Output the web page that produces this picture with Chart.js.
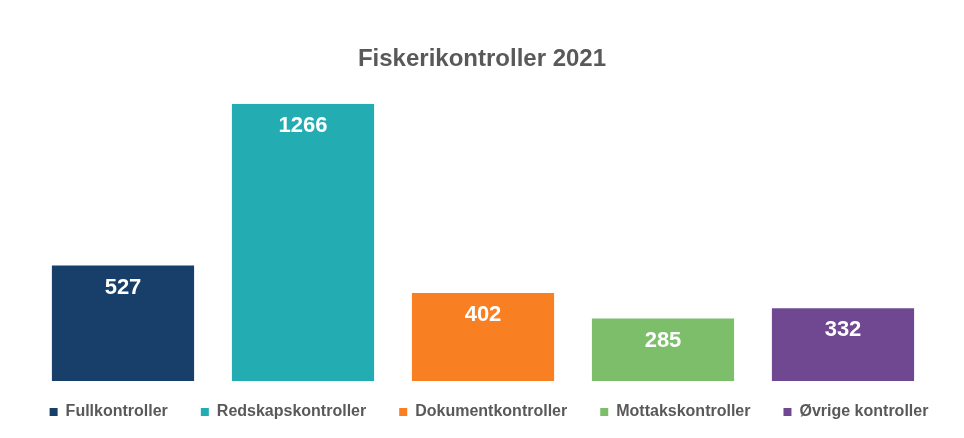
<!DOCTYPE html>
<html>
<head>
<meta charset="utf-8">
<script src="https://cdn.jsdelivr.net/npm/chart.js@4/dist/chart.umd.min.js"></script>
<style>
  html, body { margin: 0; padding: 0; background: #ffffff; }
  #wrap { width: 964px; height: 438px; }
</style>
</head>
<body>
<div id="wrap"><canvas id="c"></canvas></div>
<script>
const categories = ["Fullkontroller", "Redskapskontroller", "Dokumentkontroller", "Mottakskontroller", "Øvrige kontroller"];
const values = [527, 1266, 402, 285, 332];
const colors = ["#173F6A", "#23ADB3", "#F87F22", "#7DBE6A", "#6F4891"];
const titleText = "Fiskerikontroller 2021";

const valueLabels = {
  id: 'valueLabels',
  afterDatasetsDraw(chart) {
    const ctx = chart.ctx;
    const meta = chart.getDatasetMeta(0);
    ctx.save();
    ctx.fillStyle = '#ffffff';
    ctx.font = 'bold 22px "Liberation Sans", Arial, sans-serif';
    ctx.textAlign = 'center';
    ctx.textBaseline = 'middle';
    meta.data.forEach((bar, i) => {
      ctx.fillText(String(values[i]), bar.x, bar.y + 22);
    });
    ctx.restore();
  }
};

const legendShift = {
  id: 'legendShift',
  afterLayout(chart) {
    if (chart.legend) {
      chart.legend.top -= 10;
      chart.legend.bottom -= 10;
      chart.legend.left += 7;
      chart.legend.right += 7;
    }
  }
};

new Chart(document.getElementById('c'), {
  type: 'bar',
  data: {
    labels: categories,
    datasets: [{
      label: titleText,
      data: values,
      backgroundColor: colors,
      borderWidth: 0,
      categoryPercentage: 1.0,
      barPercentage: 0.79
    }]
  },
  options: {
    responsive: true,
    maintainAspectRatio: false,
    animation: false,
    devicePixelRatio: 1,
    layout: { padding: { left: 0, right: 0, top: 0, bottom: -2 } },
    scales: {
      x: { display: false },
      y: {
        display: true, min: 0, max: Math.max(...values),
        ticks: { display: false }, grid: { display: false }, border: { display: false },
        afterFit(s) { s.width = 33; }
      },
      yRight: {
        type: 'linear', position: 'right', display: true,
        ticks: { display: false }, grid: { display: false }, border: { display: false },
        afterFit(s) { s.width = 31; }
      }
    },
    plugins: {
      tooltip: { enabled: false },
      title: {
        display: true,
        text: titleText,
        color: '#595959',
        font: { family: '"Liberation Sans", Arial, sans-serif', size: 24, weight: 'bold' },
        padding: { top: 45, bottom: 30 }
      },
      legend: {
        display: true,
        position: 'bottom',
        labels: {
          color: '#595959',
          font: { family: '"Liberation Sans", Arial, sans-serif', size: 16, weight: 'bold' },
          boxWidth: 8,
          boxHeight: 8,
          padding: 33,
          generateLabels(chart) {
            return categories.map((c, i) => ({
              text: c,
              fillStyle: colors[i],
              strokeStyle: colors[i],
              lineWidth: 0,
              hidden: false,
              index: i,
              fontColor: '#595959'
            }));
          }
        }
      }
    }
  },
  plugins: [valueLabels, legendShift]
});
</script>
</body>
</html>
